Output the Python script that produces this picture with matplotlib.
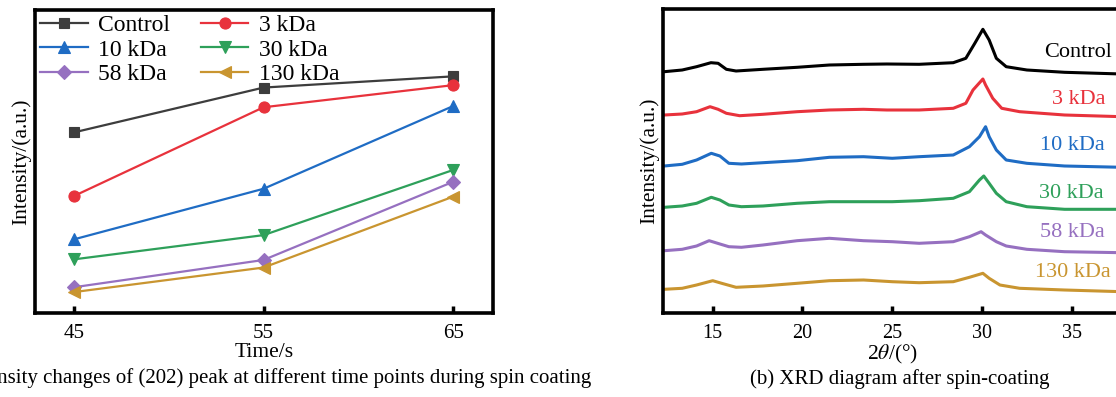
import matplotlib
matplotlib.use("Agg")
import matplotlib.pyplot as plt

plt.rcParams['font.family'] = ['Liberation Serif', 'DejaVu Serif']
plt.rcParams['mathtext.fontset'] = 'stix'

# ---------------- Panel (a) data ----------------
times = [45, 55, 65]
series_names = ["Control", "3 kDa", "10 kDa", "30 kDa", "58 kDa", "130 kDa"]
control_a = [59.6, 74.4, 78.1]
kda3_a = [38.6, 67.9, 75.2]
kda10_a = [24.3, 41.0, 68.3]
kda30_a = [17.7, 25.7, 47.2]
kda58_a = [8.5, 17.5, 43.3]
kda130_a = [6.9, 15.0, 38.4]

# ---------------- Panel (b) data (XRD traces, stacked, arbitrary units) ----------------
control_x = [12.3, 13.3, 14.1, 14.9, 15.3, 15.76, 16.3, 17.8, 19.7, 21.5, 23.4, 24.7, 26.5, 28.4,
             29.1, 29.6, 30.05, 30.4, 30.8, 31.35, 32.5, 34.6, 37.8]
control_y = [241.3, 243, 246.3, 250.3, 249.7, 243.7, 242, 243.7, 245.7, 248, 248.7, 249, 248.7, 250.3,
             254.7, 269.7, 283.7, 273, 254.7, 246.3, 243, 240.7, 239]

kda3_x = [12.3, 13.3, 14.1, 14.85, 15.3, 15.76, 16.5, 17.8, 19.7, 21.5, 23.4, 24.7, 26.5, 28.4,
          29.1, 29.5, 30.05, 30.2, 30.6, 31.1, 32.1, 34.6, 37.8]
kda3_y = [198, 199, 201.3, 206.3, 203.7, 199.7, 197.3, 198.7, 201.3, 203, 203.7, 203, 203, 204.7,
          209.7, 223, 234, 228, 214.7, 204.7, 201.3, 198, 196.3]

kda10_x = [12.3, 13.3, 14.1, 14.92, 15.4, 15.9, 16.6, 17.8, 19.7, 21.5, 23.4, 25.0, 26.5, 28.4,
           29.3, 29.86, 30.2, 30.4, 30.8, 31.35, 32.5, 34.6, 37.8]
kda10_y = [147, 148.7, 153, 159.7, 157, 149.7, 149, 150.3, 152.3, 155.7, 156.3, 154.7, 156.3, 158,
           166.3, 176.3, 186.3, 176.3, 163, 153, 149.7, 147, 145.7]

kda30_x = [12.3, 13.3, 14.1, 14.92, 15.4, 15.9, 16.6, 17.8, 19.7, 21.5, 23.4, 25.0, 26.5, 28.4,
           29.3, 29.86, 30.1, 30.4, 30.8, 31.35, 32.5, 34.6, 37.8]
kda30_y = [105.7, 107, 109.7, 115.7, 113, 108, 106.3, 107, 109.7, 111.3, 111.3, 111.3, 112.3, 114.7,
           121.3, 133, 137, 129.7, 119.7, 111.3, 106.3, 103.7, 103.7]

kda58_x = [12.3, 13.3, 14.1, 14.8, 15.4, 15.9, 16.6, 17.8, 19.7, 21.5, 23.4, 25.0, 26.5, 28.4,
           29.3, 29.95, 30.2, 30.8, 31.35, 32.5, 34.6, 37.8]
kda58_y = [62.3, 63.7, 67, 72.3, 69, 66.3, 65.7, 68, 72.3, 74.7, 72.3, 71.3, 69.7, 71.3,
           76.3, 81.3, 78, 71.3, 67, 63.7, 61.3, 60.3]

kda130_x = [12.3, 13.3, 14.1, 15.0, 15.5, 16.3, 17.8, 19.7, 21.5, 23.4, 25.0, 26.5, 28.4,
            29.3, 30.05, 30.4, 31.0, 32.1, 34.6, 37.8]
kda130_y = [23.7, 24.7, 28, 32.3, 29.7, 25.7, 27, 29.7, 32.3, 33, 31.3, 30.3, 31.3,
            35.7, 39.7, 34.7, 28, 24.7, 23, 21.3]

xrd_ticks = [15, 20, 25, 30, 35]

# ---------------- styles ----------------
colors_a = ["#3d3d3d", "#e8323c", "#1f6cc4", "#2ea05a", "#9670c0", "#c99530"]
markers_a = ["s", "o", "^", "v", "D", "<"]
msizes_a = [7, 8, 8, 8, 7, 8]
colors_b = ["#000000", "#e8323c", "#1f6cc4", "#2ea05a", "#9670c0", "#c99530"]

W, H = 1116, 397
fig = plt.figure(figsize=(W / 100, H / 100), dpi=100)

def frac_box(x0, y0, x1, y1):
    return [x0 / W, 1 - y1 / H, (x1 - x0) / W, (y1 - y0) / H]

# ---------------- Panel (a) ----------------
ax1 = fig.add_axes(frac_box(35, 10, 493, 313))
series_a = [control_a, kda3_a, kda10_a, kda30_a, kda58_a, kda130_a]
handles = []
for name, vals, c, m, ms in zip(series_names, series_a, colors_a, markers_a, msizes_a):
    h, = ax1.plot(times, vals, color=c, marker=m, markersize=ms, linewidth=1.6, label=name,
                  markeredgewidth=0.8)
    handles.append(h)
ax1.set_xlim(42.95, 67.1)
ax1.set_ylim(0, 100)
ax1.set_xticks(times)
ax1.set_xticklabels([str(t) for t in times])
ax1.set_yticks([])
ax1.tick_params(axis='x', direction='in', length=5, width=2.5, labelsize=15, pad=8)
for s in ax1.spines.values():
    s.set_linewidth(2.6)
ax1.set_xlabel("Time/s", fontsize=15.5, labelpad=0)
ax1.set_ylabel("Intensity/(a.u.)", fontsize=15.5, labelpad=3)
# row-wise legend order (Control, 3 kDa / 10 kDa, 30 kDa / 58 kDa, 130 kDa)
order = [0, 2, 4, 1, 3, 5]
leg = ax1.legend([handles[i] for i in order], [series_names[i] for i in order],
                 ncol=2, frameon=False, fontsize=17, loc='upper left',
                 bbox_to_anchor=(0.012, 0.984), borderaxespad=0, borderpad=0,
                 handlelength=2.0, handletextpad=0.45, columnspacing=1.3,
                 labelspacing=0.12)

# ---------------- Panel (b) ----------------
ax2 = fig.add_axes(frac_box(663, 9, 1122, 313))
xs_b = [control_x, kda3_x, kda10_x, kda30_x, kda58_x, kda130_x]
ys_b = [control_y, kda3_y, kda10_y, kda30_y, kda58_y, kda130_y]
for xv, yv, c in zip(xs_b, ys_b, colors_b):
    ax2.plot(xv, yv, color=c, linewidth=2.2)
ax2.set_xlim(12.23, 37.8)
ax2.set_ylim(0, 304)
ax2.set_xticks(xrd_ticks)
ax2.set_yticks([])
ax2.tick_params(axis='x', direction='in', length=5, width=2.5, labelsize=14.5, pad=8)
for s in ax2.spines.values():
    s.set_linewidth(2.6)
ax2.set_xlabel(r"2$\theta$/(°)", fontsize=15.5, labelpad=0)
ax2.set_ylabel("Intensity/(a.u.)", fontsize=15.5, labelpad=3)

label_pos = [(1112, 52.7), (1105, 99.3), (1105, 146), (1104, 193.3), (1105, 232.7), (1110.7, 272.7)]
for name, (px, py), c in zip(series_names, label_pos, colors_b):
    fig.text(px / W, 1 - py / H, name, color=c, fontsize=16, ha='right', va='center')

# ---------------- captions ----------------
fig.text(591 / W, 1 - 378 / H,
         "(a) Intensity changes of (202) peak at different time points during spin coating",
         fontsize=15, ha='right', va='center')
fig.text(900 / W, 1 - 379 / H, "(b) XRD diagram after spin-coating",
         fontsize=15, ha='center', va='center')

fig.savefig("out.png", dpi=100)
